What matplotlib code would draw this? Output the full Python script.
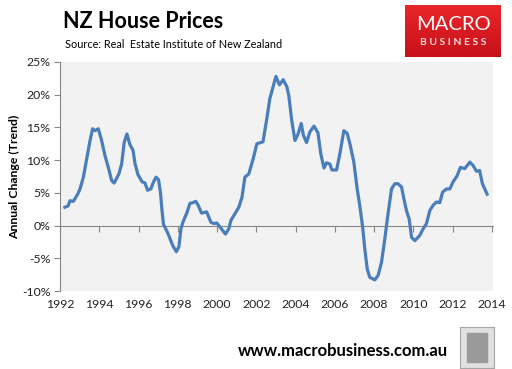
import numpy as np
import matplotlib
matplotlib.use("Agg")
import matplotlib.pyplot as plt
from matplotlib.patches import Rectangle

# NZ house prices, annual change (trend)
years = [1992.25, 1992.41, 1992.51, 1992.68, 1992.90, 1993.02, 1993.19, 1993.36,
         1993.53, 1993.66, 1993.78, 1993.95, 1994.12, 1994.29, 1994.46, 1994.63,
         1994.76, 1995.00, 1995.14, 1995.27, 1995.41, 1995.56, 1995.72, 1995.82,
         1995.97, 1996.18, 1996.33, 1996.46, 1996.63, 1996.74, 1996.89, 1997.02,
         1997.12, 1997.19, 1997.27, 1997.50, 1997.75, 1997.93, 1998.06, 1998.16,
         1998.26, 1998.47, 1998.62, 1998.77, 1998.92, 1999.04, 1999.21, 1999.47,
         1999.69, 1999.84, 1999.99, 2000.20, 2000.43, 2000.60, 2000.71, 2000.91,
         2001.11, 2001.27, 2001.42, 2001.62, 2001.84, 2002.03, 2002.34, 2002.52,
         2002.69, 2002.86, 2003.00, 2003.18, 2003.37, 2003.56, 2003.66, 2003.80,
         2003.97, 2004.13, 2004.29, 2004.40, 2004.56, 2004.73, 2004.94, 2005.14,
         2005.29, 2005.45, 2005.58, 2005.75, 2005.85, 2006.09, 2006.26, 2006.46,
         2006.63, 2006.77, 2006.97, 2007.14, 2007.27, 2007.41, 2007.53, 2007.65,
         2007.78, 2008.04, 2008.21, 2008.38, 2008.55, 2008.72, 2008.89, 2009.06,
         2009.22, 2009.40, 2009.52, 2009.65, 2009.79, 2009.91, 2010.08, 2010.33,
         2010.50, 2010.67, 2010.84, 2011.01, 2011.18, 2011.35, 2011.49, 2011.69,
         2011.86, 2012.03, 2012.23, 2012.40, 2012.62, 2012.88, 2013.04, 2013.22,
         2013.38, 2013.52, 2013.64, 2013.76]
change = [2.8, 3.0, 3.8, 3.7, 4.8, 5.6, 7.4, 10.2,
          13.0, 14.8, 14.5, 14.8, 13.0, 10.7, 8.9, 6.9,
          6.5, 7.9, 9.4, 12.7, 14.0, 12.4, 11.5, 9.5,
          7.8, 6.7, 6.5, 5.4, 5.6, 6.5, 7.4, 7.0,
          5.0, 2.5, 0.2, -1.2, -3.1, -4.0, -3.2, -0.5,
          0.5, 2.0, 3.4, 3.5, 3.7, 3.1, 1.9, 2.1,
          0.5, 0.3, 0.4, -0.4, -1.3, -0.5, 0.8, 1.8,
          2.8, 4.3, 7.4, 7.9, 10.2, 12.5, 12.8, 16.0,
          19.4, 21.3, 22.8, 21.5, 22.3, 21.2, 19.8, 16.2,
          13.0, 14.0, 15.6, 13.8, 12.7, 14.3, 15.2, 14.2,
          10.9, 8.8, 9.6, 9.4, 8.5, 8.5, 11.0, 14.5,
          14.1, 12.5, 9.7, 5.6, 3.1, 0.0, -3.6, -6.6,
          -7.9, -8.3, -7.6, -5.6, -2.0, 2.0, 5.6, 6.4,
          6.4, 5.9, 4.1, 2.3, 1.0, -1.8, -2.3, -1.5,
          -0.5, 0.3, 2.3, 3.1, 3.6, 3.5, 5.1, 5.6,
          5.6, 6.7, 7.6, 8.9, 8.7, 9.7, 9.2, 8.3,
          8.4, 6.4, 5.6, 4.8]

year_ticks = list(range(1992, 2015, 2))
pct_ticks = [25, 20, 15, 10, 5, 0, -5, -10]

plt.rcParams['font.family'] = ['Lato', 'DejaVu Sans']

fig = plt.figure(figsize=(5.12, 3.69), dpi=100)
fig.patch.set_facecolor('white')
ax = fig.add_axes([60/512, 1 - 291/369, 433/512, 229/369])
ax.set_facecolor('#f2f2f2')

ax.plot(years, change, color='#4a7ebb', lw=2.3, solid_joinstyle='round', zorder=3)

ax.set_xlim(1992, 2014.06)
ax.set_ylim(-10, 25)
ax.set_yticks(pct_ticks)
ax.set_yticklabels([f'{v}%' for v in pct_ticks], fontsize=8.8, color='#222222')
ax.set_xticks(year_ticks)

# horizontal axis sits on the zero line, labels at the bottom
for s in ['top', 'right']:
    ax.spines[s].set_visible(False)
ax.spines['left'].set_color('#868686')
ax.spines['bottom'].set_position(('data', 0))
ax.spines['bottom'].set_color('#868686')
ax.tick_params(axis='both', colors='#868686', length=4, width=0.8, direction='out')
ax.tick_params(axis='y', labelcolor='#222222', pad=3)
ax.tick_params(axis='x', labelbottom=False)
for yr in year_ticks:
    ax.text(yr, -0.035, str(yr), transform=ax.get_xaxis_transform(),
            ha='center', va='top', fontsize=8.8, color='#222222')

ax.set_ylabel('Annual Change (Trend)', fontsize=8.8, fontweight='bold', labelpad=1)

# titles
fig.text(63/512, 1 - 22/369, 'NZ House Prices', fontsize=15.5, fontweight='bold',
         va='center', ha='left')
fig.text(65/512, 1 - 44/369, 'Source: Real  Estate Institute of New Zealand',
         fontsize=7.8, va='center', ha='left')

# logo box
logo = fig.add_axes([405/512, 1 - 57/369, 96/512, 52/369])
grad = np.linspace(0, 1, 50).reshape(-1, 1)
logo.imshow(grad, aspect='auto', cmap=matplotlib.colors.LinearSegmentedColormap.from_list(
    'red', ['#e8262a', '#c8101a']), extent=[0, 1, 0, 1])
logo.text(0.5, 0.62, 'MACRO', color='white', fontsize=14.5, ha='center', va='center')
logo.text(0.5, 0.28, 'B U S I N E S S', color='#f4dede', fontsize=7.5, ha='center',
          va='center', fontweight='bold')
logo.axis('off')

# footer
fig.text(448/512, 1 - 351/369, 'www.macrobusiness.com.au', fontsize=12, fontweight='bold',
         ha='right', va='center')
wolf = fig.add_axes([460/512, 1 - 368/369, 34/512, 41/369])
wolf.set_facecolor('#e0e0e0')
wolf.add_patch(Rectangle((0.2, 0.15), 0.6, 0.7, color='#9a9a9a'))
wolf.set_xticks([])
wolf.set_yticks([])
for s in wolf.spines.values():
    s.set_color('#a6a6a6')

fig.savefig('out.png', dpi=100)
